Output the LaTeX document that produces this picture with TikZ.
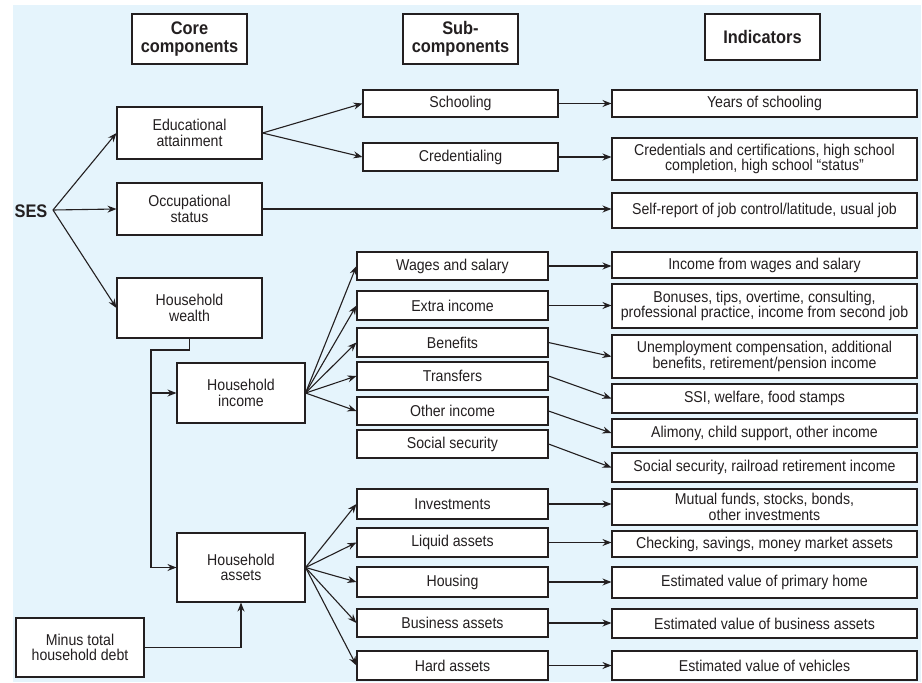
\documentclass[tikz,border=0pt]{standalone}
\usepackage{fontspec}
\setmainfont{Liberation Sans}[FakeStretch=0.9]
\usetikzlibrary{arrows.meta}
\definecolor{bgblue}{RGB}{229,244,252}
\definecolor{ink}{RGB}{35,31,32}
\begin{document}
\begin{tikzpicture}[x=1pt,y=-1pt,
  box/.style={draw=ink,fill=white,line width=1.1pt,inner sep=0pt,align=center,
    font=\fontsize{15.7}{15.3}\selectfont,text=ink},
  head/.style={box,font=\fontsize{18.2}{18.5}\selectfont\bfseries},
  core/.style={box,minimum width=145pt},
  hh/.style={box,minimum width=128pt},
  suba/.style={box,minimum width=195pt},
  subb/.style={box,minimum width=191pt},
  ind/.style={box,minimum width=305pt},
  arr/.style={draw=ink,line width=1.1pt,-{Stealth[length=9pt,width=7pt,inset=3pt]}},
  ln/.style={draw=ink,line width=1.1pt}
]
\useasboundingbox (0,0) rectangle (922,683);
\fill[bgblue] (13,5) rectangle (921,682);

% headers
\node[head,minimum width=115pt,minimum height=50pt] (hcore) at (189.5,39) {Core\\components};
\node[head,minimum width=115pt,minimum height=50pt] (hsub) at (460.5,39) {Sub-\\components};
\node[head,minimum width=115pt,minimum height=46pt] (hind) at (762.5,37) {Indicators};

% SES
\node[text=ink,font=\fontsize{18.2}{18.5}\selectfont\bfseries,inner sep=0pt] (ses) at (31,211) {SES};
\coordinate (sesv) at (53,210);

% core components
\node[core,minimum height=52pt] (edu) at (189.5,133) {Educational\\attainment};
\node[core,minimum height=52pt] (occ) at (189.5,209) {Occupational\\status};
\node[core,minimum height=60pt] (wealth) at (189.5,308) {Household\\wealth};
\node[hh,minimum height=60pt] (inc) at (241,393) {Household\\income};
\node[hh,minimum height=69pt] (ast) at (241,567.5) {Household\\assets};
\node[hh,minimum height=59pt] (debt) at (80,647.5) {Minus total\\household debt};

% sub-components
\node[suba,minimum height=27pt] (school) at (460.5,103.5) {Schooling};
\node[suba,minimum height=28pt] (cred) at (460.5,157) {Credentialing};
\node[subb,minimum height=28pt] (wages) at (452.5,266) {Wages and salary};
\node[subb,minimum height=29pt] (extra) at (452.5,305.5) {Extra income};
\node[subb,minimum height=29pt] (benef) at (452.5,342.5) {Benefits};
\node[subb,minimum height=28pt] (transf) at (452.5,376) {Transfers};
\node[subb,minimum height=28pt] (other) at (452.5,411) {Other income};
\node[subb,minimum height=28pt] (socsec) at (452.5,444) {Social security};
\node[subb,minimum height=30pt] (invest) at (452.5,504) {Investments};
\node[subb,minimum height=29pt] (liquid) at (452.5,542.5) {Liquid assets};
\node[subb,minimum height=30pt] (housing) at (452.5,582) {Housing};
\node[subb,minimum height=28pt] (business) at (452.5,623) {Business assets};
\node[subb,minimum height=29pt] (hard) at (452.5,665.5) {Hard assets};

% indicators
\node[ind,minimum height=27pt] (years) at (764.5,103.5) {Years of schooling};
\node[ind,minimum height=42pt] (credind) at (764.5,159) {Credentials and certifications, high school\\completion, high school “status”};
\node[ind,minimum height=35pt] (selfrep) at (764.5,210.5) {Self-report of job control/latitude, usual job};
\node[ind,minimum height=26pt] (incwages) at (764.5,265) {Income from wages and salary};
\node[ind,minimum height=44pt] (bonus) at (764.5,306) {Bonuses, tips, overtime, consulting,\\professional practice, income from second job};
\node[ind,minimum height=43pt] (unemp) at (764.5,356.5) {Unemployment compensation, additional\\benefits, retirement/pension income};
\node[ind,minimum height=29pt] (ssi) at (764.5,398.5) {SSI, welfare, food stamps};
\node[ind,minimum height=28pt] (alim) at (764.5,433) {Alimony, child support, other income};
\node[ind,minimum height=29pt] (ssrail) at (764.5,467.5) {Social security, railroad retirement income};
\node[ind,minimum height=36pt] (mutual) at (764.5,507) {Mutual funds, stocks, bonds,\\other investments};
\node[ind,minimum height=26pt] (checking) at (764.5,544) {Checking, savings, money market assets};
\node[ind,minimum height=31pt] (home) at (764.5,582.5) {Estimated value of primary home};
\node[ind,minimum height=29pt] (busval) at (764.5,623.5) {Estimated value of business assets};
\node[ind,minimum height=29pt] (vehic) at (764.5,665.5) {Estimated value of vehicles};

% SES arrows
\draw[arr] (sesv) -- (edu.west);
\draw[arr] (sesv) -- (occ.west);
\draw[arr] (sesv) -- (wealth.west);

% education
\draw[arr] (edu.east) -- (school.west);
\draw[arr] (edu.east) -- (cred.west);
\draw[arr] (school.east) -- (school.east -| years.west);
\draw[arr] (cred.east) -- (cred.east -| credind.west);
\draw[arr] (occ.east) -- (occ.east -| selfrep.west);

% wealth split
\coordinate (bus) at (151,350);
\draw[arr] (wealth.south) |- (bus) |- (ast.west);
\draw[arr] (bus |- inc.west) -- (inc.west);
\draw[arr] (debt.east) -| (ast.south);

% income
\foreach \t in {wages,extra,benef,transf,other}
  \draw[arr] (inc.east) -- (\t.west);
\draw[arr] (wages.east) -- (wages.east -| incwages.west);
\draw[arr] (extra.east) -- (extra.east -| bonus.west);
\draw[arr] (benef.east) -- (unemp.west);
\draw[arr] (transf.east) -- (ssi.west);
\draw[arr] (other.east) -- (alim.west);
\draw[arr] (socsec.east) -- (ssrail.west);

% assets
\foreach \t in {invest,liquid,housing,business,hard}
  \draw[arr] (ast.east) -- (\t.west);
\draw[arr] (invest.east) -- (invest.east -| mutual.west);
\draw[arr] (liquid.east) -- (liquid.east -| checking.west);
\draw[arr] (housing.east) -- (housing.east -| home.west);
\draw[arr] (business.east) -- (business.east -| busval.west);
\draw[arr] (hard.east) -- (hard.east -| vehic.west);
\end{tikzpicture}
\end{document}
